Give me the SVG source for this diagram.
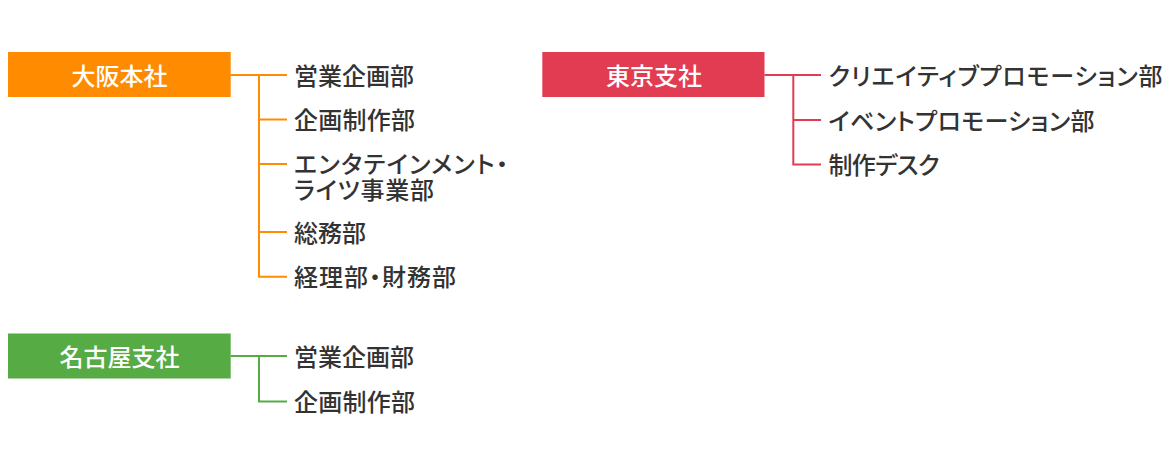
<svg xmlns="http://www.w3.org/2000/svg" width="1170" height="467" viewBox="0 0 1170 467">
<style>
.bg{fill:#ffffff}
.lbl{font-family:"Noto Sans CJK JP","Noto Sans CJK SC",sans-serif;font-size:24px;font-weight:500;fill:#ffffff;text-anchor:middle;font-feature-settings:"palt"}
.item{font-family:"Noto Sans CJK JP","Noto Sans CJK SC",sans-serif;font-size:24px;font-weight:500;fill:#333333;font-feature-settings:"palt"}
.c{fill:none;stroke-width:2}
.osaka{fill:#FF8C00}.tokyo{fill:#E23C52}.nagoya{fill:#57AB44}
.co{stroke:#FF8C00}.ct{stroke:#E23C52}.cn{stroke:#57AB44}
</style>
<rect class="bg" x="0" y="0" width="1170" height="467"/>
<g id="connectors">
<path class="c co" d="M230.5 75H259M259 74V277.5M259 75H287M259 119.5H287M259 164H287M259 232H287M259 276.7H287"/>
<path class="c ct" d="M764.5 75H793.3M793.3 74V165.5M793.3 75H821M793.3 120H821M793.3 164.5H821"/>
<path class="c cn" d="M230.5 356H259M259 355V402.5M259 356H287M259 401.5H287"/>
</g>
<g id="osaka">
<rect class="osaka" x="8" y="52" width="222.7" height="45"/>
<text class="lbl" x="119.5" y="85">大阪本社</text>
</g>
<g id="osaka-items">
<text class="item" x="294" y="84.5" textLength="120" lengthAdjust="spacing">営業企画部</text>
<text class="item" x="294" y="129" textLength="121" lengthAdjust="spacing">企画制作部</text>
<text class="item" x="294" y="172.5" textLength="214" lengthAdjust="spacing">エンタテインメント・</text>
<text class="item" x="294" y="198.5" textLength="140" lengthAdjust="spacing">ライツ事業部</text>
<text class="item" x="294" y="241.5" textLength="72" lengthAdjust="spacing">総務部</text>
<text class="item" x="294" y="286" textLength="162" lengthAdjust="spacing">経理部・財務部</text>
</g>
<g id="tokyo">
<rect class="tokyo" x="542.3" y="52" width="222.2" height="45"/>
<text class="lbl" x="654" y="85">東京支社</text>
</g>
<g id="tokyo-items">
<text class="item" x="828.5" y="84.5" textLength="334" lengthAdjust="spacing">クリエイティブプロモーション部</text>
<text class="item" x="828.5" y="129.5" textLength="266" lengthAdjust="spacing">イベントプロモーション部</text>
<text class="item" x="828.5" y="174" textLength="111" lengthAdjust="spacing">制作デスク</text>
</g>
<g id="nagoya">
<rect class="nagoya" x="8" y="333.5" width="222.7" height="45"/>
<text class="lbl" x="119.5" y="366">名古屋支社</text>
</g>
<g id="nagoya-items">
<text class="item" x="294" y="365.5" textLength="120" lengthAdjust="spacing">営業企画部</text>
<text class="item" x="294" y="411" textLength="121" lengthAdjust="spacing">企画制作部</text>
</g>
</svg>
